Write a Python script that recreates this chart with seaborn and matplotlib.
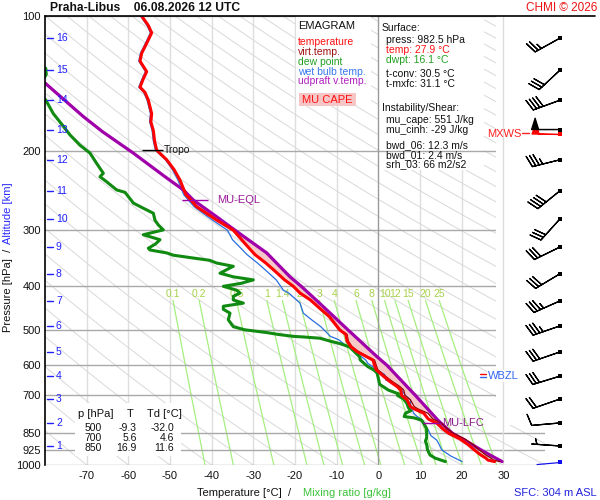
import numpy as np
import pandas as pd
import matplotlib
matplotlib.use("Agg")
import matplotlib.pyplot as plt
import matplotlib.transforms as mtransforms
from matplotlib.patches import Rectangle
from matplotlib.lines import Line2D
from matplotlib.ticker import NullLocator
import seaborn as sns

sns.set_theme(style="white")
plt.rcParams['font.family'] = ['Liberation Sans', 'DejaVu Sans']

# ---------------- data ----------------
temp_p = [982.5, 975, 965, 950, 925, 900, 875, 850, 830, 808, 790, 767, 750, 741, 716, 700,
          681, 669, 650, 635, 614, 600, 584, 570, 559, 545, 530, 512, 500, 485, 467, 450,
          429, 414, 400, 387, 370, 355, 340, 329, 315, 300, 284, 266, 257, 250, 232, 220,
          209, 199, 190, 180, 172, 165, 154, 148, 144, 138, 133, 126, 121, 115, 109, 105, 100]
temp_T = [27.9, 26.3, 25.8, 24.6, 23.0, 21.5, 19.6, 16.9, 15.4, 14.1, 12.0, 10.9, 8.6, 7.7, 6.9, 5.6,
          5.4, 4.5, 2.6, 1.3, -0.5, -0.9, -1.3, -3.4, -5.1, -6.6, -7.5, -7.8, -9.3, -10.4, -11.8, -13.8,
          -16.3, -18.8, -20.4, -22.5, -24.8, -27.0, -29.6, -31.0, -32.8, -34.8, -39.0, -43.6, -45.0, -46.2, -47.6, -49.0,
          -50.8, -53.2, -53.7, -54.0, -54.6, -54.4, -55.2, -56.0, -57.2, -56.4, -55.6, -57.2, -56.8, -55.6, -54.4, -55.2, -56.8]

tv_p = [982.5, 975, 965, 950, 925, 900, 875, 850, 830, 808, 790, 767, 750, 741, 716, 700,
        681, 669, 650, 635, 614, 600, 584, 570, 559, 545, 530, 512, 500, 485, 467, 450, 429, 414, 400]
tv_T = [29.2, 27.6, 27.0, 25.8, 24.2, 22.7, 20.8, 18.0, 16.5, 15.2, 13.1, 11.9, 9.5, 8.6, 7.7, 6.4,
        6.1, 5.2, 3.2, 1.8, -0.1, -0.5, -0.9, -3.1, -4.8, -6.3, -7.2, -7.5, -9.1, -10.2, -11.6, -13.7, -16.2, -18.7, -20.3]

dew_p = [982.5, 975, 965, 950, 925, 900, 885, 870, 850, 830, 808, 795, 785, 780, 767, 757, 745, 730,
         712, 700, 694, 681, 661, 647, 624, 614, 604, 584, 574, 554, 546, 537, 530, 522, 519, 517,
         512, 507, 500, 492, 475, 459, 450, 443, 436, 429, 421, 414, 408, 400, 394, 387, 381, 374,
         364, 361, 355, 350, 346, 341, 337, 332, 329, 322, 315, 307, 299.5, 292, 285, 275, 268,
         261, 258, 247, 244, 234, 228, 224, 213, 202, 194, 184, 176, 165, 154, 148, 140, 135, 131,
         126, 115, 100]
dew_T = [16.1, 15.0, 13.6, 12.4, 11.8, 11.6, 11.3, 11.6, 11.6, 11.6, 10.9, 10.4, 8.5, 6.2, 6.5, 7.8, 7.2, 6.9,
         6.0, 4.6, 4.8, 2.4, 0.3, 0.1, -0.3, -1.1, -2.5, -4.3, -4.5, -6.2, -6.9, -9.1, -11.5, -14.0, -17.5, -20.4,
         -24.0, -26.8, -32.0, -34.8, -36.0, -35.6, -37.2, -37.2, -32.4, -34.8, -34.8, -33.2, -34.0, -37.2, -33.0, -30.0, -34.8, -38.0,
         -35.6, -34.8, -38.8, -40.5, -44.4, -49.2, -50.8, -54.8, -55.2, -53.5, -52.4, -56.4, -51.6, -52.8, -53.6, -54.0, -56.4,
         -58.8, -59.2, -60.8, -62.8, -65.2, -66.8, -66.0, -67.6, -69.2, -71.6, -74.0, -75.6, -78.0, -79.8, -81.5, -80.8, -79.7, -79.8,
         -82.0, -84.0, -86.0]

wb_p = [982.5, 954, 925, 900, 880, 860, 836, 814, 791, 780, 767, 741, 716, 700, 681, 656, 647, 629,
        614, 594, 584, 564, 546, 540, 526, 517, 492, 475, 459, 436, 414, 408, 387, 370, 355, 340,
        329, 315, 300, 284, 266, 257, 250, 232, 220, 209, 199, 190, 180, 172, 165, 154, 148, 144,
        138, 133, 126, 121, 115, 109, 105, 100]
wb_T = [20.1, 17.3, 15.2, 14.6, 14.0, 12.6, 12.0, 10.9, 10.4, 9.3, 8.5, 7.8, 7.7, 6.5, 5.6, 3.5, 1.8, 1.5,
        -0.3, -2.5, -3.0, -5.1, -6.9, -8.0, -9.5, -11.5, -13.8, -16.0, -18.0, -18.8, -21.5, -22.8, -24.5, -26.8, -29.0, -31.5,
        -33.0, -35.0, -36.2, -40.0, -44.2, -45.6, -46.7, -48.1, -49.4, -51.1, -53.5, -54.0, -54.3, -54.9, -54.7, -55.5, -56.3, -57.5,
        -56.7, -55.9, -57.5, -57.1, -55.9, -54.7, -55.5, -57.1]

par_p = [982.5, 950, 925, 896, 850, 806, 791, 700, 669, 600, 574, 500, 431, 400, 381, 337,
         300, 280, 257, 244, 228, 202, 181, 167.5, 141]
par_T = [29.7, 26.8, 24.6, 22.1, 17.8, 15.0, 14.1, 8.9, 6.9, 2.1, -0.3, -7.3, -14.7, -18.5, -21.2, -26.8,
         -34.4, -38.8, -44.4, -46.8, -51.2, -58.8, -66.2, -70.8, -80.0]

alt_km = [1, 2, 3, 4, 5, 6, 7, 8, 9, 10, 11, 12, 13, 14, 15, 16]
alt_p = [907, 806, 713, 634, 560, 490, 431, 375, 327, 283, 245, 209, 179, 154, 132, 112]

wind_p = [907, 806, 713, 634, 560, 490, 431, 375, 327, 283, 245, 209, 179, 154, 132, 112]
wind_dir = [274, 265, 251, 253, 251, 251, 246, 239, 244, 222, 231, 256, 270, 250, 227, 241]
wind_spd = [5, 10, 20, 30, 30, 35, 35, 30, 30, 30, 40, 35, 50, 40, 30, 25]
sfc_p, sfc_dir, sfc_spd = 982.5, 265, 2
mxws_p, mxws_dir, mxws_spd = 183, 271, 50

p_levels = [100, 200, 300, 400, 500, 600, 700, 850, 925, 1000]
t_ticks = [-70, -60, -50, -40, -30, -20, -10, 0, 10, 20, 30]
mix_w = [0.1, 0.2, 0.5, 1, 1.4, 2, 3, 4, 6, 8, 10, 12, 15, 20, 25]
mix_lbl = ['0.1', '0.2', '0.5', '1', '1.4', '2', '3', '4', '6', '8', '10', '12', '15', '20', '25']

tab_p = ['500', '700', '850']
tab_T = ['-9.3', '5.6', '16.9']
tab_Td = ['-32.0', '4.6', '11.6']

tropo_p, tropo_T = 199, -52.9
eql_p, eql_T = 257, -44.0
lfc_p, lfc_T = 806, 13.0

# ---------------- figure ----------------
W, H = 600, 500
fig = plt.figure(figsize=(6, 5), dpi=100)
fig.patch.set_facecolor('white')

def fx(x):
    return x / W

def fy(y):
    return 1 - y / H

ax = fig.add_axes([fx(45), fy(465), 500 / W, 449 / H])
ax.set_facecolor('white')
ax.set_yscale('log')
ax.set_ylim(1000, 100)
ax.set_xlim(-80, 40)

# background: isotherms, adiabats, mixing ratio lines
for t in range(-70, 40, 10):
    if t == 0:
        ax.axvline(t, color='#9a9a9a', lw=1.0, zorder=1.35)
    elif t == 30:
        ax.axvline(t, color='#dcdcdc', lw=1.0, zorder=1.6)
    else:
        ax.axvline(t, color='#dedede', lw=1.0, zorder=1.0)

pg = np.geomspace(1000, 100, 200)
for th in range(-80, 350, 10):
    ax.plot((th + 273.15) * (pg / 1000.0) ** 0.2857 - 273.15, pg, color='#d9d9d9', lw=0.7, zorder=1.0)

pm = np.geomspace(1000, 430, 60)
for w, lbl in zip(mix_w, mix_lbl):
    e = w * pm / (622.0 + w)
    le = np.log(e / 6.112)
    tm = 243.5 * le / (17.67 - le)
    ax.plot(tm, pm, color='#a6ef80', lw=0.9, zorder=1.1)
    ax.text(tm[-1], 416, lbl, color='#a6d24a', fontsize=7.5, ha='center', va='center', zorder=1.2)

for p in p_levels:
    ax.axhline(p, color='#a9a9a9', lw=1.0, zorder=1.3)

# boxes
def box(x0, y0, x1, y1, z, fc='white', alpha=1.0):
    r = Rectangle((fx(x0), fy(y1)), fx(x1) - fx(x0), fy(y0) - fy(y1), transform=fig.transFigure,
                  facecolor=fc, edgecolor='none', zorder=z, alpha=alpha, clip_on=False)
    ax.add_patch(r)

box(496, 16, 545, 425, 1.5)          # wind panel cover
box(378, 16, 484, 170, 1.2)          # surface info
box(296, 16, 371, 104, 1.7)          # legend
box(75, 403, 181, 456, 1.9)          # table

# CAPE fill
grid = np.geomspace(830, 250, 300)
env_lo = np.interp(np.log(grid), np.log(tv_p[::-1]), tv_T[::-1])
env_hi = np.interp(np.log(grid), np.log(temp_p[::-1]), temp_T[::-1])
env = np.where(grid >= 400, env_lo, env_hi)
parc = np.interp(np.log(grid), np.log(par_p[::-1]), par_T[::-1])
ax.fill_betweenx(grid, env, parc, where=parc > env, color='#f7c8c8', lw=0, zorder=2.5, interpolate=True)

# profiles
sns.lineplot(x=wb_T, y=wb_p, sort=False, estimator=None, color='#2a6fe0', lw=0.9, ax=ax, zorder=3)
sns.lineplot(x=dew_T, y=dew_p, sort=False, estimator=None, color='#108a10', lw=2.2, ax=ax, zorder=4)
sns.lineplot(x=par_T, y=par_p, sort=False, estimator=None, color='#a000aa', lw=2.3, ax=ax, zorder=5)
sns.lineplot(x=tv_T, y=tv_p, sort=False, estimator=None, color='#8b0000', lw=0.9, ax=ax, zorder=5.5)
sns.lineplot(x=temp_T, y=temp_p, sort=False, estimator=None, color='#ff0000', lw=2.2, ax=ax, zorder=6)

# annotations
ax.hlines(tropo_p, tropo_T - 3.8, tropo_T + 1.2, color='black', lw=1.0, zorder=7)
ax.text(tropo_T + 1.5, tropo_p, 'Tropo', fontsize=7.5, va='center', color='#111111', zorder=7)
ax.hlines(eql_p, eql_T - 3.1, eql_T + 3.1, color='#a000aa', lw=1.0, zorder=7)
ax.text(eql_T + 5.3, eql_p, 'MU-EQL', fontsize=8, va='center', color='#9a1a9a', zorder=7)
ax.hlines(lfc_p, lfc_T - 2.2, lfc_T + 2.1, color='#a000aa', lw=1.0, zorder=7)
ax.text(lfc_T + 2.3, lfc_p, 'MU-LFC', fontsize=8, va='center', color='#8a1a8a', zorder=7)

# axes styling
ax.set_yticks(p_levels)
ax.set_yticklabels([str(p) for p in p_levels])
ax.yaxis.set_minor_locator(NullLocator())
ax.set_xticks(t_ticks)
ax.set_xticklabels([str(t) for t in t_ticks])
ax.tick_params(axis='both', length=0, labelsize=8, colors='#111111')
ax.tick_params(axis='y', pad=3)
ax.tick_params(axis='x', pad=4)
ax.set_xlabel('')
ax.set_ylabel('')
ax.grid(False)
for s in ['top', 'right', 'bottom']:
    ax.spines[s].set_visible(False)
ax.spines['left'].set_color('black')
ax.spines['left'].set_linewidth(1.2)
ax.spines['left'].set_zorder(8)

# altitude ticks
trans = mtransforms.blended_transform_factory(fig.transFigure, ax.transData)
for km, p in zip(alt_km, alt_p):
    ax.plot([fx(47), fx(53)], [p, p], transform=trans, color='#2020ff', lw=1.0, zorder=8, clip_on=False)
    ax.text(fx(56), p, str(km), transform=trans, color='#2020ff', fontsize=7.5, va='center', zorder=8)

# ---------------- wind panel ----------------
axw = fig.add_axes([fx(497), fy(465), 103 / W, 449 / H])
axw.set_yscale('log')
axw.set_ylim(1000, 100)
axw.set_xlim(0, 1)
axw.axis('off')
axw.patch.set_alpha(0)
xw = (560 - 497) / 103.0
d = np.deg2rad(np.array(wind_dir))
s = np.array(wind_spd, dtype=float)
axw.barbs(np.full(len(wind_p), xw), wind_p, -s * np.sin(d), -s * np.cos(d),
          length=6.4, linewidth=0.9, color='black', pivot='tip', zorder=3)
axw.scatter(np.full(len(wind_p), xw), wind_p, marker='s', s=5, color='black', zorder=4, linewidths=0)
dm = np.deg2rad(mxws_dir)
axw.barbs([xw], [mxws_p], [-mxws_spd * np.sin(dm)], [-mxws_spd * np.cos(dm)],
          length=6.4, linewidth=0.9, color='red', pivot='tip', zorder=2)
axw.scatter([xw], [mxws_p], marker='s', s=5, color='red', zorder=4, linewidths=0)
dsf = np.deg2rad(sfc_dir)
axw.quiver([xw], [sfc_p], [-np.sin(dsf)], [-np.cos(dsf)], pivot='tip', angles='uv',
           scale_units='inches', scale=1 / 0.24, units='dots', width=1.2,
           headwidth=1, headlength=0, headaxislength=0, color='#1010ee', zorder=3)
axw.scatter([xw], [sfc_p], marker='s', s=5, color='#1010ee', zorder=4, linewidths=0)

# ---------------- texts ----------------
fig.add_artist(Line2D([fx(45), fx(595)], [fy(16), fy(16)], color='black', lw=1.2))
fig.text(fx(50), fy(8), 'Praha-Libus    06.08.2026 12 UTC', fontsize=8.7, fontweight='bold',
         va='center', color='#111111')
fig.text(fx(597), fy(8), 'CHMI © 2026', fontsize=8.5, color='#ee1111', ha='right', va='center')
fig.text(fx(597), fy(493), 'SFC: 304 m ASL', fontsize=8, color='#2222dd', ha='right', va='center')
fig.text(fx(197), fy(493), 'Temperature [°C]  /', fontsize=8, color='#111111', va='center')
fig.text(fx(303), fy(493), 'Mixing ratio [g/kg]', fontsize=8, color='#3cc43c', va='center')
fig.text(fx(8), fy(290), 'Pressure [hPa]  /', fontsize=8, rotation=90, ha='center', va='center', color='#111111')
fig.text(fx(8), fy(213), 'Altitude [km]', fontsize=8, rotation=90, ha='center', va='center', color='#2a2aff')

# legend box
leg = [('EMAGRAM', '#111111', 26, 8), ('temperature', '#ff1010', 42, 7.5), ('virt.temp.', '#a01010', 52, 7.5),
       ('dew point', '#22a022', 62, 7.5), ('wet bulb temp.', '#3377ee', 72, 7.5),
       ('udpraft v.temp.', '#b020c0', 81, 7.5)]
for t, c, y, fs in leg:
    fig.text(fx(298), fy(y), t, color=c, fontsize=fs, va='center', zorder=10)
fig.add_artist(Rectangle((fx(299), fy(106)), fx(356) - fx(299), fy(93) - fy(106), transform=fig.transFigure,
                         facecolor='#f6c6c6', edgecolor='none'))
fig.text(fx(327), fy(100), 'MU CAPE', color='#ff1010', fontsize=8, ha='center', va='center')

info = [('Surface:', '#111111', 382, 28), ('press: 982.5 hPa', '#111111', 386, 40),
        ('temp: 27.9 °C', '#ff1010', 386, 50), ('dwpt: 16.1 °C', '#22a022', 386, 60),
        ('t-conv: 30.5 °C', '#111111', 386, 74), ('t-mxfc: 31.1 °C', '#111111', 386, 84),
        ('Instability/Shear:', '#111111', 382, 108), ('mu_cape: 551 J/kg', '#111111', 386, 120),
        ('mu_cinh: -29 J/kg', '#111111', 386, 130), ('bwd_06: 12.3 m/s', '#111111', 386, 145),
        ('bwd_01: 2.4 m/s', '#111111', 386, 155), ('srh_03: 66 m2/s2', '#111111', 386, 164)]
for t, c, x, y in info:
    fig.text(fx(x), fy(y), t, color=c, fontsize=7.5, va='center')

# table
fig.text(fx(78), fy(414), 'p [hPa]', fontsize=8, va='center', color='#111111')
fig.text(fx(127), fy(414), 'T', fontsize=8, va='center', color='#111111')
fig.text(fx(147), fy(414), 'Td [°C]', fontsize=8, va='center', color='#111111')
for i, (a, b, c) in enumerate(zip(tab_p, tab_T, tab_Td)):
    yy = 428 + 10 * i
    fig.text(fx(102), fy(yy), a, fontsize=7.5, va='center', ha='right', color='#111111')
    fig.text(fx(137), fy(yy), b, fontsize=7.5, va='center', ha='right', color='#111111')
    fig.text(fx(174), fy(yy), c, fontsize=7.5, va='center', ha='right', color='#111111')

# WBZL and MXWS labels
fig.text(fx(488), fy(376), 'WBZL', fontsize=8, color='#3366ee', va='center',
         bbox=dict(facecolor='white', edgecolor='none', pad=1.0))
fig.add_artist(Line2D([fx(480), fx(486)], [fy(374), fy(374)], color='red', lw=1))
fig.add_artist(Line2D([fx(480), fx(486)], [fy(377), fy(377)], color='#3366ee', lw=1))
fig.text(fx(487), fy(134), 'MXWS', fontsize=8, color='#ff2020', va='center')
fig.add_artist(Line2D([fx(522), fx(529)], [fy(133), fy(133)], color='#ff2020', lw=1))

fig.savefig('out.png', dpi=100, facecolor='white')
